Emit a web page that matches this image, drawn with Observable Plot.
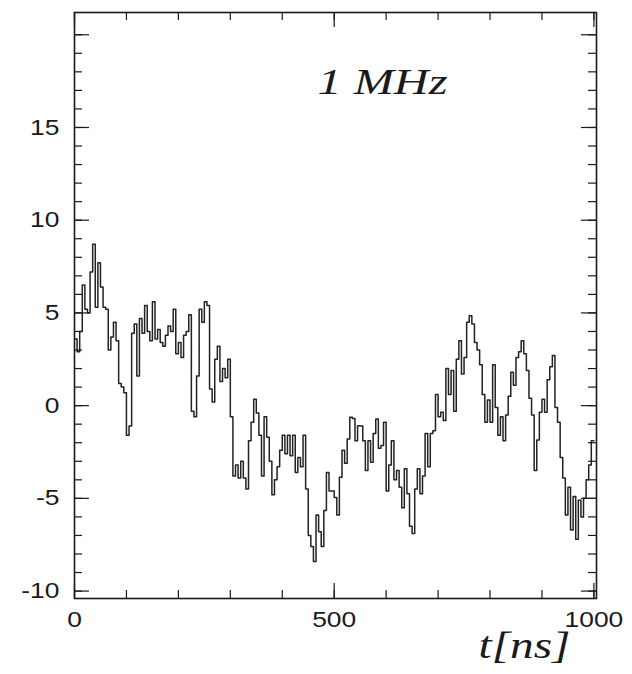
<!DOCTYPE html>
<html><head><meta charset="utf-8">
<script src="https://cdn.jsdelivr.net/npm/d3@7"></script>
<script src="https://cdn.jsdelivr.net/npm/@observablehq/plot@0.6"></script>
<style>body{margin:0;background:#fff}</style>
</head><body><div id="chart"></div>
<script>
// ---- data: 5 ns bins, 0..1000 ns ----
const binWidth = 5;
const values = [
  3.6, 2.9, 4.0, 6.5, 5.2, 5.0, 7.2, 8.7, 5.3, 7.7, 6.4, 5.3, 5.2, 3.0, 3.7, 4.5, 3.5, 1.2, 1.0, 0.7,
  -1.6, -1.1, 3.9, 4.4, 1.6, 4.7, 3.9, 5.4, 4.0, 3.5, 5.6, 3.6, 4.1, 3.4, 3.2, 3.8, 4.3, 4.0, 5.2, 2.8,
  3.4, 2.6, 3.8, 4.0, 4.9, -0.3, -0.6, 1.6, 5.2, 4.5, 5.6, 5.4, 0.9, 0.2, 2.5, 3.2, 1.3, 2.0, 1.5, 2.5,
  -0.6, -3.8, -3.2, -3.9, -3.0, -3.9, -4.5, -1.9, -0.9, 0.35, -0.4, -1.6, -3.8, -0.6, -1.7, -3.0, -4.8, -4.0, -3.3, -2.4,
  -1.6, -2.6, -1.6, -2.7, -1.6, -3.6, -2.8, -3.3, -1.6, -4.5, -7.0, -7.6, -8.4, -5.9, -6.8, -7.6, -5.65, -3.6, -4.6, -4.6,
  -4.95, -5.9, -3.86, -2.4, -3.1, -1.8, -0.63, -0.7, -1.9, -1.08, -1.1, -1.9, -3.5, -1.9, -3.05, -1.5, -0.72, -2.3, -2.15, -0.9,
  -4.6, -3.2, -1.9, -4.0, -3.5, -4.4, -5.5, -3.4, -4.75, -6.5, -6.9, -4.5, -3.4, -4.75, -3.8, -1.5, -3.3, -1.5, -1.35, 0.6,
  -0.6, -0.36, -0.8, 2.0, 0.6, 1.9, -0.3, 2.5, 3.5, 1.7, 2.6, 4.5, 4.85, 4.4, 3.4, 3.0, 2.2, 0.6, -0.9, 0.3,
  -0.9, 2.2, -0.1, -1.6, -0.6, -1.9, -0.5, 0.5, 1.8, 1.1, 2.6, 2.9, 3.5, 2.8, 1.9, 0.4, -0.5, -3.5, -1.85, -0.35,
  0.35, -0.35, 1.4, 2.1, 2.7, -0.1, -0.9, -2.8, -3.9, -5.9, -4.4, -6.7, -4.9, -7.2, -5.1, -6.0, -5.0, -4.0, -3.2, -1.9
];
const xTickLabels = [0, 500, 1000];
const yTickLabels = [-10, -5, 0, 5, 10, 15];
const xMinorTicks = [0, 100, 200, 300, 400, 500, 600, 700, 800, 900, 1000];
const xMajorTicks = [0, 500, 1000];
const yMinorTicks = d3.range(-10, 21, 1);
const yMajorTicks = [-10, -5, 0, 5, 10, 15, 20];
const title = "1 MHz";
const xLabel = "t[ns]";

// ---- layout ----
const W = 632, H = 674, mL = 74, mR = 36, mT = 12, mB = 76;
const xDom = [0, 1005], yDom = [-10.4, 21.2];
const kx = (W - mL - mR) / (xDom[1] - xDom[0]);
const ky = (H - mT - mB) / (yDom[1] - yDom[0]);
const minorLen = 8, majorLen = 15;

const data = values.map((v, i) => ({t: i * binWidth, v}));
data.push({t: values.length * binWidth, v: values[values.length - 1]});

const ink = "#1a1a1a";
const plot = Plot.plot({
  width: W, height: H,
  marginLeft: mL, marginRight: mR, marginTop: mT, marginBottom: mB,
  style: {fontFamily: "Liberation Sans, Arial, sans-serif", background: "#fff", color: ink},
  x: {domain: xDom, label: null},
  y: {domain: yDom, label: null},
  marks: [
    Plot.line(data, {x: "t", y: "v", curve: "step-after", stroke: "#222", strokeWidth: 1.5}),
    // bottom & top ticks
    Plot.ruleX(xMinorTicks, {x: d => d, y1: yDom[0], y2: yDom[0] + minorLen / ky, stroke: ink, strokeWidth: 1.2}),
    Plot.ruleX(xMajorTicks, {x: d => d, y1: yDom[0], y2: yDom[0] + majorLen / ky, stroke: ink, strokeWidth: 1.2}),
    Plot.ruleX(xMinorTicks, {x: d => d, y1: yDom[1], y2: yDom[1] - minorLen / ky, stroke: ink, strokeWidth: 1.2}),
    Plot.ruleX(xMajorTicks, {x: d => d, y1: yDom[1], y2: yDom[1] - majorLen / ky, stroke: ink, strokeWidth: 1.2}),
    // left & right ticks
    Plot.ruleY(yMinorTicks, {y: d => d, x1: xDom[0], x2: xDom[0] + minorLen / kx, stroke: ink, strokeWidth: 1.2}),
    Plot.ruleY(yMajorTicks, {y: d => d, x1: xDom[0], x2: xDom[0] + majorLen / kx, stroke: ink, strokeWidth: 1.2}),
    Plot.ruleY(yMinorTicks, {y: d => d, x1: xDom[1], x2: xDom[1] - minorLen / kx, stroke: ink, strokeWidth: 1.2}),
    Plot.ruleY(yMajorTicks, {y: d => d, x1: xDom[1], x2: xDom[1] - majorLen / kx, stroke: ink, strokeWidth: 1.2}),
    Plot.frame({stroke: ink, strokeWidth: 1.6}),
    Plot.axisX(xTickLabels, {anchor: "bottom", tickSize: 0, tickPadding: 13, fontSize: 22, tickFormat: d => String(d), fill: ink}),
    Plot.axisY(yTickLabels, {anchor: "left", tickSize: 0, tickPadding: 15, fontSize: 22, tickFormat: d => String(d), fill: ink}),
    Plot.text([title], {text: d => d, frameAnchor: "top-left", dx: 243, dy: 70, textAnchor: "start", lineAnchor: "middle",
      fontFamily: "Liberation Serif, Times New Roman, serif", fontStyle: "italic", fontSize: 35, fill: ink}),
    Plot.text([xLabel], {text: d => d, frameAnchor: "bottom-right", dx: -26, dy: 47, textAnchor: "end", lineAnchor: "middle",
      fontFamily: "Liberation Serif, Times New Roman, serif", fontStyle: "italic", fontSize: 38, fill: ink})
  ]
});
document.getElementById("chart").append(plot);

// horizontal stretch of the texts, as in the reference
plot.querySelectorAll('g[aria-label="x-axis tick label"] text, g[aria-label="y-axis tick label"] text').forEach(t => {
  const L = t.getComputedTextLength();
  t.setAttribute("textLength", (L * 1.2).toFixed(1));
  t.setAttribute("lengthAdjust", "spacingAndGlyphs");
});
const textGroups = plot.querySelectorAll('g[aria-label="text"]');
const wanted = [130, 92];
textGroups.forEach((g, i) => {
  g.querySelectorAll("text").forEach(t => {
    t.setAttribute("textLength", wanted[i] ?? t.getComputedTextLength());
    t.setAttribute("lengthAdjust", "spacingAndGlyphs");
  });
});
</script>
</body></html>
